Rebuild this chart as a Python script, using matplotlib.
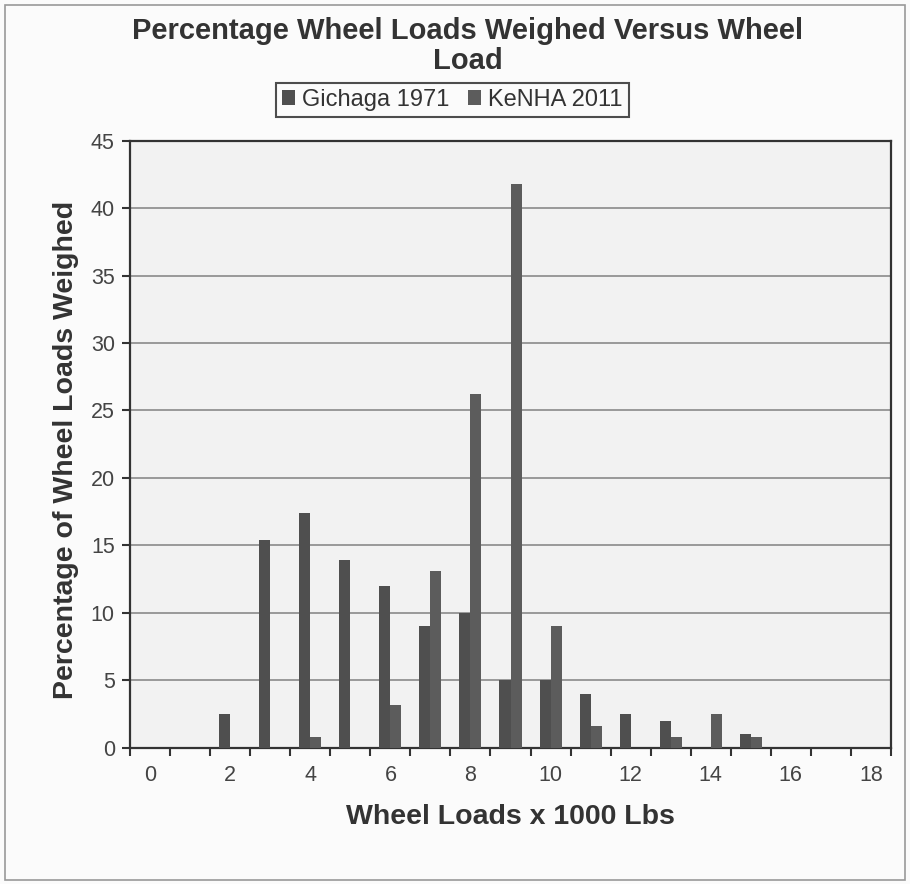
import matplotlib
matplotlib.use('Agg')
from matplotlib import pyplot as plt
from matplotlib.patches import Rectangle
import numpy as np

# wheel load categories (x 1000 lbs) and % of wheel loads weighed
loads = list(range(0, 19))
gichaga = [0, 0, 2.5, 15.4, 17.4, 13.9, 12, 9, 10, 5, 5, 4, 2.5, 2, 0, 1, 0, 0, 0]
kenha = [0, 0, 0, 0, 0.8, 0, 3.2, 13.1, 26.2, 41.8, 9, 1.6, 0, 0.8, 2.5, 0.8, 0, 0, 0]
series_names = ['Gichaga 1971', 'KeNHA 2011']
tick_labels = [str(v) for v in loads[::2]]

arial = ['Liberation Sans', 'DejaVu Sans']
txt = '#333333'

fig = plt.figure(figsize=(9.1, 8.84), dpi=100, facecolor='#fbfbfb')
fig.patches.append(Rectangle((0.005, 0.004), 0.99, 0.99, transform=fig.transFigure,
                             fill=False, edgecolor='#999999', lw=1.2))
ax = fig.add_axes([0.143, 0.154, 0.836, 0.687])
ax.set_facecolor('#f2f2f2')

x = np.array(loads)
w = 0.275
ax.bar(x - w / 2, gichaga, w, color='#4f4f4f', label=series_names[0], zorder=3)
ax.bar(x + w / 2, kenha, w, color='#5c5c5c', label=series_names[1], zorder=3)

ax.set_xlim(-0.5, 18.5)
ax.set_ylim(0, 45)
ax.set_yticks(range(0, 46, 5))
ax.yaxis.grid(True, color='#8a8a8a', lw=1.2, zorder=0)
ax.set_axisbelow(True)

# category boundary tick marks, labels every other category
ax.set_xticks(np.arange(-0.5, 19, 1.0))
ax.set_xticklabels([])
ax.set_xticks(loads[::2], minor=True)
ax.set_xticklabels(tick_labels, minor=True)
ax.tick_params(axis='x', which='major', length=6, width=1.5, color='#333333', direction='out')
ax.tick_params(axis='x', which='minor', length=0, pad=12)
ax.tick_params(axis='y', length=6, width=1.5, color='#333333', pad=5)
for lab in ax.get_xticklabels(minor=True) + ax.get_yticklabels():
    lab.set_fontfamily(arial)
    lab.set_fontsize(15.5)
    lab.set_color('#444444')

for s in ax.spines.values():
    s.set_color('#333333')
    s.set_linewidth(1.6)

fig.text(0.514, 0.981, 'Percentage Wheel Loads Weighed Versus Wheel\nLoad',
         ha='center', va='top', fontsize=21, fontweight='bold', family=arial,
         color=txt, linespacing=1.12)
fig.text(0.072, 0.491, 'Percentage of Wheel Loads Weighed', rotation=90,
         ha='center', va='center', fontsize=20.5, fontweight='bold', family=arial, color=txt)
fig.text(0.561, 0.076, 'Wheel Loads x 1000 Lbs', ha='center', va='center',
         fontsize=20.5, fontweight='bold', family=arial, color=txt)

leg = fig.legend(loc='center', bbox_to_anchor=(0.497, 0.887), ncol=2,
                 prop={'family': arial, 'size': 17}, frameon=True, fancybox=False,
                 edgecolor='#222222', handlelength=0.55, handleheight=0.55,
                 handletextpad=0.3, columnspacing=0.8, borderpad=0.25,
                 borderaxespad=0)
leg.get_frame().set_linewidth(1.5)
leg.get_frame().set_facecolor('#fbfbfb')
for t in leg.get_texts():
    t.set_color(txt)

fig.savefig('out.png', dpi=100, facecolor=fig.get_facecolor())
